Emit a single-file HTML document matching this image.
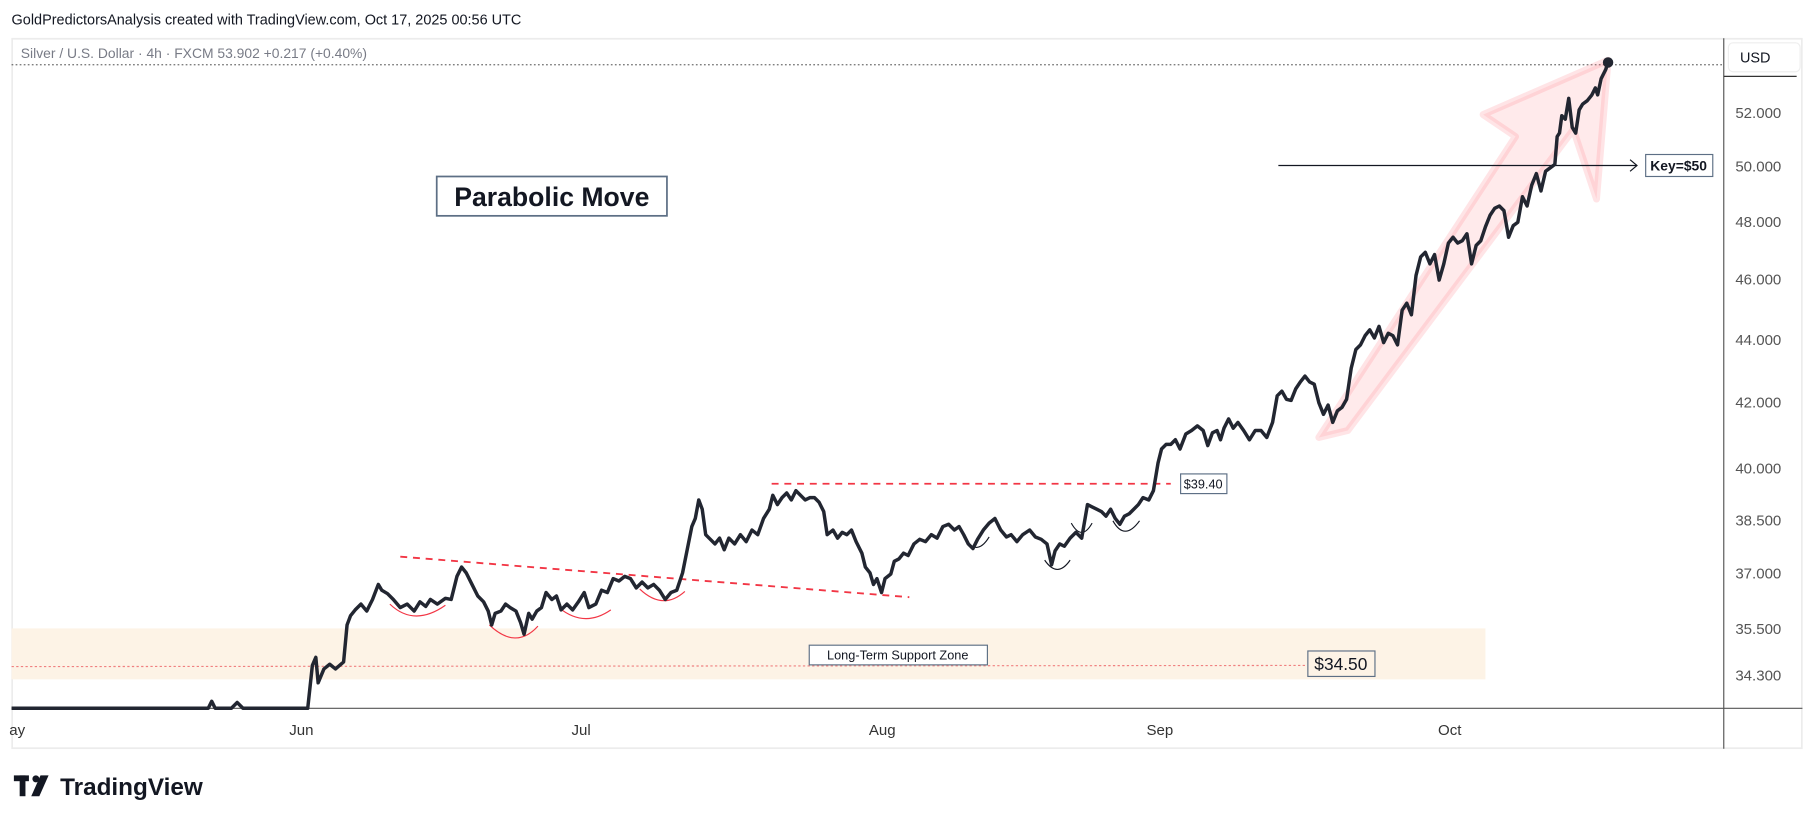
<!DOCTYPE html>
<html><head><meta charset="utf-8"><style>
html,body{margin:0;padding:0;background:#fff;overflow:hidden}
svg{display:block}
text{font-family:"Liberation Sans",sans-serif}
</style></head><body>
<svg width="1814" height="824" viewBox="0 0 1568 712" preserveAspectRatio="none" xmlns="http://www.w3.org/2000/svg">
<rect width="1568" height="712" fill="#fff"/>
<text x="10" y="21" font-size="12.5" fill="#131722">GoldPredictorsAnalysis created with TradingView.com, Oct 17, 2025 00:56 UTC</text>
<rect x="10.5" y="33.5" width="1547" height="613" fill="#fff" stroke="#ececec" stroke-width="1.5"/>
<line x1="1490" y1="33" x2="1490" y2="647" stroke="#555" stroke-width="1"/>
<line x1="10" y1="612" x2="1558" y2="612" stroke="#555" stroke-width="1"/>
<text x="18" y="50" font-size="12" fill="#787b86">Silver / U.S. Dollar · 4h · FXCM  53.902  +0.217 (+0.40%)</text>
<line x1="10" y1="56" x2="1490" y2="56" stroke="#333" stroke-width="0.8" stroke-dasharray="1.5,2"/>
<rect x="1494" y="37" width="62" height="25" rx="4" fill="#fff" stroke="#eee"/>
<text x="1504" y="54" font-size="12.5" fill="#131722">USD</text>
<line x1="1490" y1="66" x2="1553" y2="66" stroke="#333" stroke-width="1"/>
<g font-size="13" fill="#555">
<text x="1500" y="102">52.000</text><text x="1500" y="148">50.000</text><text x="1500" y="196">48.000</text>
<text x="1500" y="246">46.000</text><text x="1500" y="298">44.000</text><text x="1500" y="352">42.000</text>
<text x="1500" y="409">40.000</text><text x="1500" y="454">38.500</text><text x="1500" y="500">37.000</text>
<text x="1500" y="548">35.500</text><text x="1500" y="588">34.300</text>
</g>
<g font-size="13" fill="#333">
<text x="8" y="635">ay</text><text x="250" y="635">Jun</text><text x="494" y="635">Jul</text>
<text x="751" y="635">Aug</text><text x="991" y="635">Sep</text><text x="1243" y="635">Oct</text>
</g>
<!-- support zone -->
<rect x="10" y="543" width="1274" height="44" fill="#fdf3e6"/>
<line x1="10" y1="576" x2="1130" y2="575" stroke="#f08080" stroke-width="1" stroke-dasharray="2,2"/>
<rect x="699.5" y="557.5" width="154" height="17" fill="#fff" stroke="#5d6f85"/>
<text x="776" y="570" font-size="11" text-anchor="middle" fill="#131722">Long-Term Support Zone</text>
<rect x="1130.5" y="562.5" width="58" height="22" fill="#fdf3e6" stroke="#5d6f85"/>
<text x="1159" y="579" font-size="15" text-anchor="middle" fill="#131722">$34.50</text>
<!-- parabolic -->
<rect x="377.5" y="152.5" width="199" height="34" fill="#fff" stroke="#5d6f85" stroke-width="1.5"/>
<text x="477" y="178" font-size="23" text-anchor="middle" fill="#131722" font-weight="bold" font-family="DejaVu Sans Condensed, Liberation Sans, sans-serif">Parabolic Move</text>
<!-- pink arrow -->
<polygon points="1140,378 1310,118 1282,99 1390,52 1380,172 1360,112 1165,372" fill="rgba(255,80,90,0.12)" stroke="rgba(255,120,130,0.2)" stroke-width="6" stroke-linejoin="round"/>
<!-- key line -->
<line x1="1105" y1="143" x2="1415" y2="143" stroke="#131722" stroke-width="1"/>
<polyline points="1409,138 1415,143 1409,148" fill="none" stroke="#131722" stroke-width="1"/>
<rect x="1422.5" y="133.5" width="58" height="19" fill="#fff" stroke="#5d6f85"/>
<text x="1451" y="147.5" font-size="12" text-anchor="middle" font-weight="bold" fill="#131722">Key=$50</text>
<!-- 39.40 -->
<line x1="667" y1="418" x2="1012" y2="418" stroke="#f23645" stroke-width="1.6" stroke-dasharray="6,5"/>
<rect x="1020.5" y="409.5" width="40" height="17" fill="#fff" stroke="#5d6f85"/>
<text x="1040" y="422" font-size="11" text-anchor="middle" fill="#131722">$39.40</text>
<line x1="346" y1="481" x2="786" y2="516" stroke="#f23645" stroke-width="1.6" stroke-dasharray="6,5"/>
<!-- arcs -->
<g fill="none" stroke="#f23645" stroke-width="1">
<path d="M337,522 Q358,542 385,523"/><path d="M423,540 Q446,562 465,541"/>
<path d="M483,525 Q505,543 528,527"/><path d="M553,509 Q573,528 592,511"/>
</g>
<g fill="none" stroke="#131722" stroke-width="1">
<path d="M833,464 Q844,482 855,464"/><path d="M903,484 Q914,500 925,484"/>
<path d="M926,452 Q935,468 944,452"/><path d="M962,450 Q972,468 985,450"/>
</g>
<!-- price line -->
<polyline fill="none" stroke="#222631" stroke-width="3" stroke-linejoin="round" points="10,612 180,612 183,606 186,612 200,612 205,607 210,612 216,612 266,612 270,575 273,568 275,590 280,578 285,574 290,578 297,572 300,540 303,532 307,527 312,522 317,528 322,518 327,505 330,510 335,513 340,518 346,525 352,522 358,528 363,520 368,524 372,518 378,522 385,517 390,518 395,498 399,490 403,495 408,505 413,515 418,520 422,528 425,540 428,530 433,528 437,522 441,525 446,528 450,538 453,548 457,530 460,535 464,528 468,525 472,512 477,518 481,515 485,527 490,522 495,527 500,520 505,512 509,525 515,522 520,510 525,512 530,500 535,502 540,498 545,500 550,508 555,503 560,508 565,505 570,510 575,518 580,512 585,510 590,495 595,470 598,455 601,448 604,432 607,440 610,462 614,466 618,470 622,465 626,475 630,465 635,470 640,462 645,468 650,458 655,462 660,448 665,440 668,428 672,436 676,430 680,426 684,432 688,424 692,428 696,432 700,430 704,430 708,434 712,442 715,462 720,458 724,465 728,460 732,462 736,458 740,468 745,478 748,490 752,495 755,505 758,500 762,512 765,500 770,496 773,485 777,483 781,478 785,480 790,470 795,466 800,468 805,462 810,465 815,455 820,453 825,458 829,455 833,462 837,470 841,474 845,466 850,458 855,452 860,448 865,458 870,464 874,462 879,468 884,462 890,458 895,464 900,466 905,470 909,488 912,476 916,470 920,472 925,465 930,460 935,465 940,436 944,438 948,440 952,442 956,446 960,440 964,448 968,453 972,446 976,444 980,440 984,436 988,430 993,432 997,424 1001,400 1004,388 1008,384 1012,384 1016,380 1020,388 1025,375 1030,372 1035,368 1040,372 1044,385 1048,374 1052,372 1055,380 1058,370 1062,362 1066,370 1070,365 1075,372 1080,380 1085,372 1090,372 1095,378 1100,365 1104,342 1108,338 1112,345 1116,346 1120,336 1124,330 1128,325 1132,330 1136,332 1140,348 1144,358 1148,350 1152,365 1156,355 1160,352 1164,345 1168,318 1172,302 1176,298 1180,290 1184,285 1188,292 1192,282 1196,296 1200,288 1204,290 1208,298 1212,268 1216,262 1220,272 1224,238 1228,222 1232,218 1236,228 1240,220 1244,242 1248,228 1252,210 1256,205 1260,210 1264,208 1268,202 1272,228 1276,212 1280,208 1284,196 1288,186 1292,180 1296,178 1300,182 1304,205 1308,195 1312,192 1316,170 1320,178 1324,160 1328,150 1332,165 1336,148 1340,145 1344,142 1346,118 1348,115 1350,100 1353,103 1356,85 1359,110 1362,115 1365,95 1368,90 1372,87 1376,82 1379,76 1381,82 1384,68 1388,60 1390,54"/>
<circle cx="1390" cy="54" r="4.5" fill="#222631"/>
<!-- logo -->
<g fill="#131722">
<rect x="12" y="670" width="13" height="5"/><rect x="17" y="670" width="5" height="18"/>
<circle cx="31" cy="673" r="3"/><polygon points="35,670 42,670 34,688 27,688"/>
</g>
<text x="52" y="687" font-size="21" font-weight="bold" fill="#131722">TradingView</text>
</svg>
</body></html>
